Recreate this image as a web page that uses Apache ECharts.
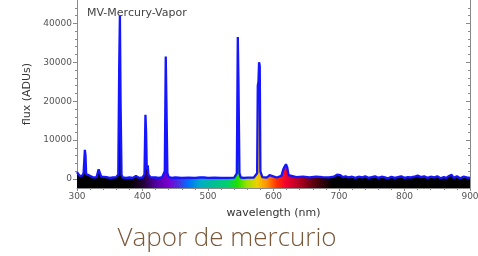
<!DOCTYPE html>
<html>
<head>
<meta charset="utf-8">
<script src="https://cdn.jsdelivr.net/npm/echarts@6/dist/echarts.min.js"></script>
<style>
  html, body { margin: 0; padding: 0; background: #fff; }
  #box { width: 478px; height: 256px; }
</style>
</head>
<body>
<div id="box"></div>
<script>
// wavelength (nm) and flux (ADUs)
const wavelength = [
  300, 302, 304, 306, 308, 310, 312, 313, 314, 316, 318, 320, 325, 330, 333, 334, 335, 337, 340, 345,
  350, 355, 360, 363, 364.5, 365.5, 366.5, 368, 370, 375, 380, 385, 390, 392, 395, 400, 403, 404.5, 405.5, 406.5,
  408, 409, 412, 415, 420, 425, 430, 434, 435.5, 436.5, 438, 440, 445, 450, 460, 470, 480, 488, 491, 494,
  500, 510, 520, 530, 540, 544, 545.5, 546.5, 548, 550, 555, 560, 570, 575, 576, 577, 578, 579, 580, 583,
  590, 594, 597, 605, 612, 615, 617, 619, 621, 623, 626, 635, 645, 655, 665, 675, 685, 692, 697, 699,
  702, 706, 710, 715, 720, 725, 730, 735, 740, 745, 750, 755, 760, 765, 770, 775, 780, 785, 790, 795,
  800, 805, 810, 815, 820, 825, 830, 835, 840, 845, 850, 855, 860, 864, 868, 872, 875, 880, 885, 890,
  895, 900
];
const flux = [
  1800, 2000, 800, 600, 900, 1500, 7500, 6000, 1200, 700, 1000, 500, 400, 500, 2500, 3000, 2200, 600, 400, 500,
  300, 400, 500, 1200, 30000, 42000, 20000, 1000, 400, 300, 400, 300, 800, 400, 300, 400, 1200, 16500, 12000, 2500,
  3500, 1200, 500, 300, 400, 300, 500, 2000, 31500, 20000, 1500, 500, 300, 400, 300, 350, 300, 400, 900, 400,
  300, 350, 300, 300, 350, 1500, 36500, 25000, 1500, 400, 300, 350, 400, 1500, 24000, 25000, 30000, 29000, 2000, 500,
  400, 1000, 500, 400, 800, 2500, 3200, 3800, 3000, 1000, 600, 500, 600, 450, 600, 500, 450, 600, 1100, 600,
  1000, 500, 700, 400, 600, 300, 600, 400, 700, 300, 500, 700, 300, 600, 400, 200, 600, 300, 500, 700,
  300, 500, 400, 600, 900, 500, 700, 300, 600, 400, 700, 200, 500, 300, 800, 1100, 300, 700, 200, 600,
  400, 300
];
const yTicks = [0, 10000, 20000, 30000, 40000];
const yMinorTicks = [
  2000, 4000, 6000, 8000, 12000, 14000, 16000, 18000, 22000, 24000, 26000, 28000,
  32000, 34000, 36000, 38000, 42000, 44000
];

var myChart = echarts.init(document.getElementById("box"));

const axisGray = "#8a8a8a";
const labelStyle = { fontFamily: "DejaVu Sans", fontSize: 9, color: "#555" };
const yMin = -2300;
const yMax = 46000;

// horizontal spectrum colours, stops at (nm - 300) / 600
const spectrum = new echarts.graphic.LinearGradient(0, 0, 1, 0, [
  { offset: 0.0, color: "#000000" },
  { offset: 0.133, color: "#000000" },
  { offset: 0.167, color: "#220033" },
  { offset: 0.2, color: "#5000a0" },
  { offset: 0.233, color: "#7a00d0" },
  { offset: 0.258, color: "#4a30e0" },
  { offset: 0.283, color: "#0070ff" },
  { offset: 0.317, color: "#00b0c0" },
  { offset: 0.35, color: "#00c090" },
  { offset: 0.383, color: "#00d070" },
  { offset: 0.408, color: "#20e000" },
  { offset: 0.433, color: "#a0e000" },
  { offset: 0.458, color: "#f0d000" },
  { offset: 0.483, color: "#ff9000" },
  { offset: 0.508, color: "#ff3000" },
  { offset: 0.533, color: "#f00030" },
  { offset: 0.567, color: "#b00020" },
  { offset: 0.6, color: "#600010" },
  { offset: 0.65, color: "#000000" },
  { offset: 1.0, color: "#000000" }
]);

// extra axes that only draw the short minor ticks
function minorAxis(position, inside) {
  return {
    type: "value",
    position: position,
    min: yMin,
    max: yMax,
    axisLine: { show: false },
    axisTick: { inside: inside, length: 2, lineStyle: { color: axisGray }, customValues: yMinorTicks },
    axisLabel: { show: false },
    splitLine: { show: false }
  };
}

myChart.setOption({
  animation: false,
  title: {
    text: "MV-Mercury-Vapor",
    left: 82,
    top: 3,
    textStyle: { fontFamily: "DejaVu Sans", fontSize: 11, fontWeight: "normal", color: "#444" }
  },
  grid: { left: 77, right: 8, top: 0, bottom: 68, outerBoundsMode: "none", containLabel: false },
  xAxis: [
    {
      type: "value",
      min: 300,
      max: 900,
      interval: 100,
      name: "wavelength (nm)",
      nameLocation: "middle",
      nameGap: 20,
      nameTextStyle: { fontFamily: "DejaVu Sans", fontSize: 11, color: "#333" },
      axisLine: { onZero: false, lineStyle: { color: axisGray } },
      axisTick: { length: 3, lineStyle: { color: axisGray } },
      minorTick: { show: true, splitNumber: 5, length: 2, lineStyle: { color: axisGray } },
      axisLabel: Object.assign({ margin: 4 }, labelStyle),
      splitLine: { show: false }
    },
    {
      type: "value",
      position: "top",
      min: 300,
      max: 900,
      interval: 100,
      axisLine: { show: true, lineStyle: { color: axisGray } },
      axisTick: { show: false },
      axisLabel: { show: false },
      splitLine: { show: false }
    }
  ],
  yAxis: [
    {
      type: "value",
      position: "left",
      min: yMin,
      max: yMax,
      name: "flux (ADUs)",
      nameLocation: "middle",
      nameGap: 36,
      nameTextStyle: { fontFamily: "DejaVu Sans", fontSize: 11, color: "#333" },
      axisLine: { show: true, onZero: false, lineStyle: { color: axisGray } },
      axisTick: { length: 4, lineStyle: { color: axisGray }, customValues: yTicks },
      axisLabel: Object.assign({ margin: 5, customValues: yTicks, formatter: (v) => String(v) }, labelStyle),
      splitLine: { show: false }
    },
    {
      type: "value",
      position: "right",
      min: yMin,
      max: yMax,
      axisLine: { show: true, onZero: false, lineStyle: { color: axisGray } },
      axisTick: { inside: true, length: 4, lineStyle: { color: axisGray }, customValues: yTicks },
      axisLabel: { show: false },
      splitLine: { show: false }
    },
    minorAxis("left", false),
    minorAxis("right", true)
  ],
  series: [
    {
      type: "line",
      data: wavelength.map((w, i) => [w, flux[i]]),
      showSymbol: false,
      symbol: "none",
      lineStyle: { color: "#1515ff", width: 2.3 },
      areaStyle: { origin: "start", color: spectrum, opacity: 1 },
      z: 3
    }
  ],
  graphic: [
    {
      type: "text",
      x: 227,
      y: 226,
      style: {
        text: "Vapor de mercurio",
        align: "center",
        fontFamily: "Open Sans",
        fontWeight: 300,
        fontSize: 26,
        fill: "#7a5838"
      }
    }
  ]
});
</script>
</body>
</html>
